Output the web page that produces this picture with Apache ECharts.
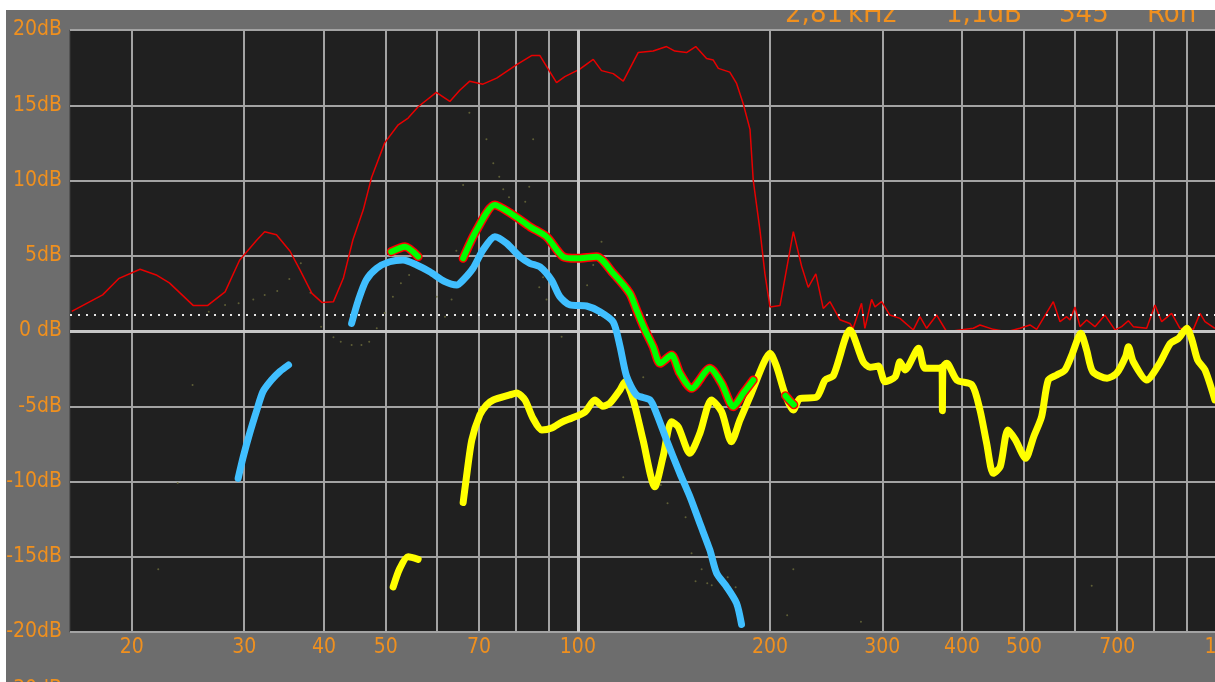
<!DOCTYPE html>
<html><head><meta charset="utf-8">
<script src="https://cdn.jsdelivr.net/npm/echarts@6/dist/echarts.min.js"></script>
<style>
html,body{margin:0;padding:0;background:#fff;width:1215px;height:682px;overflow:hidden}
#c{position:absolute;left:6px;top:10px;width:1209px;height:672px;}
</style></head><body><div id="c"></div>
<script>
// ---------- data (frequency in Hz, level in dB) ----------
const redF  = [16.1,18,19.1,20.6,21.9,22.9,24.95,26.3,28,29.5,31.4,32.3,33.7,35.4,36.7,38.3,39.7,41.4,42.9,44.4,46.1,47.5,49.8,52.3,54.2,56.2,60,63,65.3,67.7,71,74.6,80.2,84.6,87.2,92.6,95.4,100.7,105.7,108.9,113.6,117.8,124.3,131.2,137.7,141.9,148,153,159.1,163,166,173,177.3,181.6,186.1,188.3,192.9,196.4,200,207.4,217.6,224.2,229.6,236,242.4,248.3,257.4,266.9,270,278.3,281.7,288.6,292.1,299.2,308.3,319.7,335.5,343.6,352,365,378.4,416.6,426.7,447.7,469.9,492.9,511,523.6,556,569.6,583.4,590.5,601.2,612.1,627,646.1,669.9,694.5,711.5,728.8,742,778.6,802.4,822,852,878,921.5,944,961,996];
const redDb = [1.3,2.4,3.5,4.1,3.7,3.2,1.7,1.7,2.6,4.7,6.05,6.6,6.4,5.3,4.05,2.5,1.9,1.95,3.5,6.05,8.05,10.2,12.5,13.7,14.15,14.9,15.85,15.25,16.0,16.6,16.4,16.8,17.7,18.3,18.3,16.5,16.9,17.4,18.05,17.3,17.1,16.6,18.5,18.6,18.9,18.6,18.5,18.9,18.1,18.0,17.45,17.2,16.45,15.1,13.4,10.0,6.7,3.8,1.6,1.7,6.6,4.3,2.9,3.8,1.5,1.95,0.75,0.5,0.18,1.84,0.18,2.1,1.6,1.95,1.06,0.84,0.07,0.95,0.18,1.06,-0.05,0.18,0.4,0.11,-0.05,0.18,0.4,0.11,1.95,0.62,0.95,0.73,1.6,0.29,0.73,0.29,1.06,0.07,0.29,0.68,0.29,0.18,1.73,0.62,1.17,0.18,0.11,1.17,0.62,0.18];

const yellowAF  = [51.35,52.6,54.2,56.2];
const yellowADb = [-17.0,-15.77,-15.0,-15.17];
const yellowBF  = [66.1,66.8,68.2,70.2,71.9,73.7,78.2,80.2,82.6,85,87.8,91,94.4,97.9,102.6,106.3,109.4,112.2,116.4,118.5,122.1,126.5,132,136,140.2,143.6,149.8,155.3,161.9,168,174,179.5,187,195.4,200,204.9,211,217.6,222.7,236.5,244,251.5,266.9,279.9,286.9,295.7,302.9,314.3,319.7,325.6,341.8,350,368.6,372,372.6,373.4,378.4,392.5,414.7,426.7,437.1,447.7,459,472,485,503,518,533,546,563,580,595.8,614,627,641,675,698.6,721.6,729,742,778.6,815.8,848,873.5,900,917,936,961,996];
const yellowBDb = [-11.4,-9.9,-7.24,-5.58,-4.92,-4.58,-4.25,-4.12,-4.58,-5.78,-6.58,-6.45,-6.05,-5.78,-5.38,-4.58,-5.0,-4.8,-3.92,-3.37,-4.58,-7.24,-10.35,-8.35,-6.03,-6.36,-8.13,-6.8,-4.58,-5.36,-7.36,-5.91,-4.14,-2.15,-1.48,-2.37,-4.14,-5.25,-4.5,-4.4,-3.26,-2.95,0.07,-2.04,-2.41,-2.33,-3.37,-3.04,-2.04,-2.59,-1.15,-2.48,-2.48,-2.4,-5.3,-2.4,-2.15,-3.26,-3.59,-5.25,-7.46,-9.46,-9.02,-6.58,-7.24,-8.46,-7.02,-5.69,-3.26,-2.92,-2.59,-1.48,-0.15,-1.26,-2.7,-3.14,-2.81,-1.71,-1.04,-2.04,-3.26,-2.15,-0.82,-0.49,0.18,-0.6,-1.93,-2.59,-4.58];

const blueAF  = [29.35,29.9,30.6,31.4,32.1,33.1,34.1,35.2];
const blueADb = [-9.79,-8.35,-6.8,-5.25,-4.03,-3.26,-2.7,-2.26];
const blueBF  = [44.2,45.3,46.6,48.4,50.7,53.2,55.9,58.6,61.9,64.6,66.1,68.5,71.0,74.1,77.3,81.1,84.1,87.2,90.9,93.7,97.2,103.2,108.3,113.6,116.4,119.2,123.6,129.7,132.8,137.7,144.5,149.8,155.3,161,165,171,177.3,180.5];
const blueBDb = [0.51,2.06,3.39,4.17,4.6,4.72,4.39,3.94,3.28,3.06,3.39,4.17,5.38,6.27,5.83,4.94,4.5,4.27,3.39,2.28,1.73,1.66,1.28,0.6,-1.0,-3.0,-4.25,-4.58,-5.47,-7.24,-9.46,-11.0,-12.78,-14.55,-16.1,-16.99,-18.09,-19.5];

const greenAF  = [51.0,53.6,56.2];
const greenADb = [5.27,5.6,4.94];
const greenBF  = [66.1,69.4,74.1,79.2,84.1,89.3,94.8,99.5,107,113.6,120.6,123.6,127.4,131.2,134.5,140.2,144.5,150.7,161,168,175.2,181.6,188.3];
const greenBDb = [4.83,6.71,8.37,7.71,6.93,6.27,4.94,4.83,4.94,3.83,2.5,1.4,0.07,-1.04,-2.15,-1.6,-2.81,-3.81,-2.48,-3.48,-5.03,-4.14,-3.26];
const greenCF  = [211.5,214.5,218];
const greenCDb = [-4.3,-4.6,-4.9];

const dotF  = [26.4,28.0,29.4,31.0,32.3,33.8,35.3,36.8,38.1,39.6,41.4,42.5,44.2,45.8,47.1,48.4,49.8,51.3,52.8,54.4,60.1,61.9,63.4,64.5,67.6,71.9,73.7,75.3,66.1,76.4,78.0,82.7,83.9,85.1,108.9,87.0,89.3,88.2,103.4,105.7,94.3,117.8,134.9,138.2,147.5,150.7,156.3,152.9,159.5,162.1,171.7,176.7,217.6,212.8,22.0,277.7,638.6,126.6,24.9,23.6];
const dotDb = [1.28,1.73,1.84,2.1,2.39,2.66,3.46,4.5,2.54,0.29,-0.42,-0.71,-0.93,-0.93,-0.71,0.18,1.2,2.28,3.17,3.72,2.28,0.95,2.1,5.34,14.5,12.74,11.14,10.25,9.7,9.42,8.88,8.59,9.59,12.74,5.93,2.9,2.1,3.57,3.04,4.39,-0.38,-9.72,-10.23,-11.45,-12.38,-14.77,-15.83,-16.63,-16.76,-16.9,-16.37,-17.03,-15.83,-18.89,-15.83,-19.32,-16.92,-3.08,-3.59,-10.1];

const xLabelFreqs = [20,30,40,50,70,100,200,300,400,500,700,1000];
const xGridFreqs  = [20,30,40,50,60,70,80,90,100,200,300,400,500,600,700,800,900,1000];
const markerDb = 1.1;
const headerParts = ['2,81', 'kHz', '1,1dB', '345°', 'Roh'];
const bottomText = '-30dB';

// ---------- chart ----------
const ORANGE = '#f0901e';
const FAM = "'DejaVu Sans Condensed','Liberation Sans Narrow',sans-serif";
const pairs = (f, d) => f.map((v, i) => [v, d[i]]);
const thick = (name, data, color, width, z) => ({
  name, type: 'line', data, symbol: 'none', z, silent: true, smooth: 0.25,
  lineStyle: { color, width, cap: 'round', join: 'round' }
});
const headerX = [779, 842, 940, 1053, 1141];

const chart = echarts.init(document.getElementById('c'), null, { renderer: 'canvas' });
chart.setOption({
  backgroundColor: '#6d6d6d',
  animation: false,
  grid: { left: 64, top: 20, right: -1, bottom: 50, show: true, outerBoundsMode: 'none', containLabel: false,
          backgroundColor: '#202020', borderColor: '#3a3a3a', borderWidth: 1 },
  xAxis: {
    type: 'log', logBase: 10, min: 16, max: 1000,
    axisLine: { show: false },
    axisTick: { show: false, customValues: xGridFreqs },
    splitLine: { show: true, lineStyle: { color: '#a3a3a3', width: 2 } },
    axisLabel: {
      customValues: xLabelFreqs, color: ORANGE, fontFamily: FAM, fontSize: 21, margin: 5,
      formatter: v => { const r = Math.round(v); return r >= 1000 ? (r / 1000) + 'k' : String(r); }
    }
  },
  yAxis: {
    type: 'value', min: -20, max: 20, interval: 5,
    axisLine: { show: false }, axisTick: { show: false },
    splitLine: { lineStyle: { color: '#a3a3a3', width: 2 } },
    axisLabel: { color: ORANGE, fontFamily: FAM, fontSize: 21, margin: 8, formatter: v => v === 0 ? '0 dB' : v + 'dB' }
  },
  graphic: headerParts.map((t, i) => ({
    type: 'text', x: headerX[i], y: 19, silent: true,
    style: { text: t, fill: ORANGE, font: "29px " + FAM, verticalAlign: 'bottom' }
  })).concat([
    { type: 'text', x: 56, y: 680, silent: true, style: { text: bottomText, fill: ORANGE, font: "21px " + FAM, align: 'right', verticalAlign: 'middle' } }
  ]),
  series: [
    { name: 'dots', type: 'scatter', data: pairs(dotF, dotDb), symbolSize: 2, itemStyle: { color: '#6e6e3c' }, z: 2, silent: true },
    {
      name: 'red', type: 'line', data: pairs(redF, redDb), symbol: 'none', z: 3, silent: true,
      lineStyle: { color: '#e80000', width: 1.5 },
      markLine: {
        silent: true, symbol: 'none', label: { show: false }, animation: false,
        data: [
          { xAxis: 100, lineStyle: { color: '#c6c6c6', width: 3, type: 'solid' } },
          { yAxis: 0, lineStyle: { color: '#c6c6c6', width: 3, type: 'solid' } },
          { yAxis: markerDb, lineStyle: { color: '#e6e6e6', width: 2, type: [2, 6] } }
        ]
      }
    },
    thick('yellowA', pairs(yellowAF, yellowADb), '#ffff00', 7, 6),
    thick('yellowB', pairs(yellowBF, yellowBDb), '#ffff00', 7, 6),
    thick('blueA', pairs(blueAF, blueADb), '#40bfff', 7, 7),
    thick('blueB', pairs(blueBF, blueBDb), '#40bfff', 7, 7),
    thick('greenAo', pairs(greenAF, greenADb), '#ff0000', 9, 8),
    thick('greenBo', pairs(greenBF, greenBDb), '#ff0000', 9, 8),
    thick('greenCo', pairs(greenCF, greenCDb), '#ff0000', 9, 8),
    thick('greenA', pairs(greenAF, greenADb), '#00ff00', 6, 9),
    thick('greenB', pairs(greenBF, greenBDb), '#00ff00', 6, 9),
    thick('greenC', pairs(greenCF, greenCDb), '#00ff00', 6, 9)
  ]
});
</script></body></html>
